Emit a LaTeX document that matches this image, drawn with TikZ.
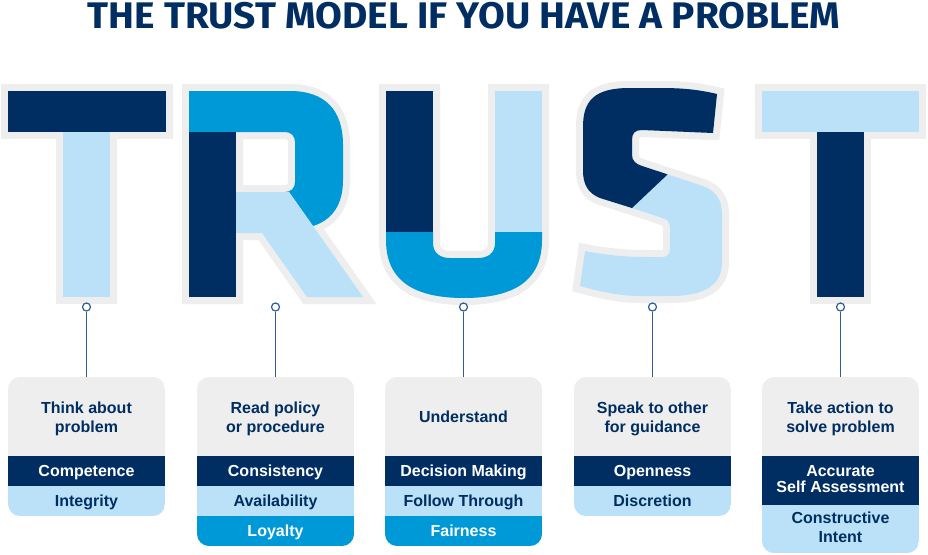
\documentclass[tikz,border=0pt]{standalone}
\usepackage{fontspec}
\usepackage{tikz}
\usetikzlibrary{calc}
\setmainfont{Liberation Sans}
\newfontfamily\titlefont{Fira Sans}
\definecolor{trustnavy}{HTML}{002D62}
\definecolor{trustblue}{HTML}{0099D8}
\definecolor{trustlight}{HTML}{BBE1F8}
\definecolor{trustgray}{HTML}{EEEEEE}
\definecolor{trustpin}{HTML}{2E5D93}
\tikzset{
	outline/.style={draw=trustgray, line width=14pt, line join=miter},
	pinring/.style={circle, draw=trustpin, line width=1.2pt, fill=white, inner sep=0pt, minimum size=8pt},
	pinline/.style={draw=trustpin, line width=1pt},
	headtext/.style={text=trustnavy, font=\bfseries\fontsize{16}{19}\selectfont, align=center},
	darkband/.style={text=white, font=\bfseries\fontsize{16}{16}\selectfont, align=center},
	lightband/.style={text=trustnavy, font=\bfseries\fontsize{16}{19}\selectfont, align=center},
}
\def\boxclip(#1,#2){\clip[rounded corners=12pt] (#1,377) rectangle ($(#1,#2)+(157,0)$);}

\begin{document}
\begin{tikzpicture}[x=1pt, y=-1pt]
			%%%%% START %%%%%
			\useasboundingbox (0,0) rectangle (928,554);
			\fill[white] (0,0) rectangle (928,554);
			
			\node[font=\titlefont\bfseries\fontsize{37}{37}\selectfont, text=trustnavy] (title) at (464,16) {\scalebox{1.05}[1]{THE TRUST MODEL IF YOU HAVE A PROBLEM}};
			
			%%%%% letter T
			\draw[outline] (8,91) -- (166,91) -- (166,132) -- (110,132) -- (110,297) -- (63,297) -- (63,132) -- (8,132) -- cycle;
			\fill[trustnavy] (8,91) rectangle (166,132);
			\fill[trustlight] (63,132) rectangle (110,297);
			
			%%%%% letter R
			\draw[outline] (189,91) -- (290,91) .. controls (325,91) and (343,110) .. (343,145) -- (343,180) .. controls (343,205) and (332,220) .. (313,226) -- (363,297) -- (307,297) -- (262,233) -- (236,233) -- (236,297) -- (189,297) -- cycle;
			\draw[outline] (236,132) -- (285,132) .. controls (291,132) and (295,136) .. (295,142) -- (295,182) .. controls (295,188) and (291,192) .. (285,192) -- (236,192) -- cycle;
			\fill[trustblue] (189,91) -- (290,91) .. controls (325,91) and (343,110) .. (343,145) -- (343,180) .. controls (343,205) and (332,220) .. (313,226) -- (289,192) -- (285,192) .. controls (291,192) and (295,188) .. (295,182) -- (295,142) .. controls (295,136) and (291,132) .. (285,132) -- (189,132) -- cycle;
			\fill[trustnavy] (189,132) rectangle (236,297);
			\fill[trustlight] (236,192) -- (289,192) -- (313,226) -- (363,297) -- (307,297) -- (262,233) -- (236,233) -- cycle;
			
			%%%%% letter U
			\draw[outline] (386,91) -- (433,91) -- (433,243) .. controls (433,253) and (440,258) .. (450,258) -- (478,258) .. controls (488,258) and (495,253) .. (495,243) -- (495,91) -- (542,91) -- (542,240) .. controls (542,280) and (515,298) .. (464,298) .. controls (413,298) and (386,280) .. (386,240) -- cycle;
			\fill[trustnavy] (386,91) rectangle (433,232);
			\fill[trustlight] (495,91) rectangle (542,232);
			\fill[trustblue] (386,232) -- (433,232) -- (433,243) .. controls (433,253) and (440,258) .. (450,258) -- (478,258) .. controls (488,258) and (495,253) .. (495,243) -- (495,232) -- (542,232) -- (542,240) .. controls (542,280) and (515,298) .. (464,298) .. controls (413,298) and (386,280) .. (386,240) -- cycle;
			
			%%%%% letter S
			\def\spath{(717,94) -- (713,133) -- (642,130) .. controls (635,130) and (632,133) .. (632,140) -- (632,155) .. controls (632,161) and (636,164) .. (642,166) -- (700,185) .. controls (715,190) and (722,198) .. (722,215) -- (722,262) .. controls (722,285) and (705,296) .. (670,296) -- (640,296) .. controls (618,296) and (598,291) .. (580,286) -- (585,251) .. controls (605,255) and (625,257) .. (645,257) -- (662,257) .. controls (667,257) and (670,254) .. (670,249) -- (670,228) .. controls (670,222) and (667,219) .. (662,218) -- (632,208) -- (600,198) .. controls (588,193) and (583,185) .. (583,170) -- (583,127) .. controls (583,100) and (595,88) .. (630,88) -- (660,88) .. controls (685,88) and (700,90) .. (717,94) -- cycle}
			\draw[outline] \spath;
			\fill[trustlight] \spath;
			\begin{scope}
				\clip (560,80) -- (740,80) -- (740,150) -- (690,150) -- (667,175) -- (632,208) -- (560,230) -- cycle;
				\fill[trustnavy] \spath;
			\end{scope}
			
			%%%%% letter T
			\draw[outline] (762,91) -- (919,91) -- (919,132) -- (864,132) -- (864,297) -- (817,297) -- (817,132) -- (762,132) -- cycle;
			\fill[trustlight] (762,91) rectangle (919,132);
			\fill[trustnavy] (817,132) rectangle (864,297);
			
			%%%%% box 1
			\begin{scope}
				\boxclip(8,516)
				\fill[trustgray] (8,377) rectangle (165,456);
				\fill[trustnavy] (8,456) rectangle (165,486);
				\fill[trustlight] (8,486) rectangle (165,516);
			\end{scope}
			\coordinate (think) at (86.5,377);
			\node[headtext] (thinkhead) at (86.5,419.2) {Think about\\problem};
			\node[darkband, anchor=base] (thinkA) at (86.5,476.75) {Competence};
			\node[lightband, anchor=base] (thinkB) at (86.5,506.75) {Integrity};
			
			%%%%% box 2
			\begin{scope}
				\boxclip(197,546)
				\fill[trustgray] (197,377) rectangle (354,456);
				\fill[trustnavy] (197,456) rectangle (354,486);
				\fill[trustlight] (197,486) rectangle (354,516);
				\fill[trustblue] (197,516) rectangle (354,546);
			\end{scope}
			\coordinate (read) at (275.5,377);
			\node[headtext] (readhead) at (275.5,419.2) {Read policy\\or procedure};
			\node[darkband, anchor=base] (readA) at (275.5,476.75) {Consistency};
			\node[lightband, anchor=base] (readB) at (275.5,506.75) {Availability};
			\node[darkband, anchor=base] (readC) at (275.5,536.75) {Loyalty};
			
			%%%%% box 3
			\begin{scope}
				\boxclip(385,546)
				\fill[trustgray] (385,377) rectangle (542,456);
				\fill[trustnavy] (385,456) rectangle (542,486);
				\fill[trustlight] (385,486) rectangle (542,516);
				\fill[trustblue] (385,516) rectangle (542,546);
			\end{scope}
			\coordinate (under) at (463.5,377);
			\node[headtext, anchor=base] (underhead) at (463.5,422.75) {Understand};
			\node[darkband, anchor=base] (underA) at (463.5,476.75) {Decision Making};
			\node[lightband, anchor=base] (underB) at (463.5,506.75) {Follow Through};
			\node[darkband, anchor=base] (underC) at (463.5,536.75) {Fairness};
			
			%%%%% box 4
			\begin{scope}
				\boxclip(574,516)
				\fill[trustgray] (574,377) rectangle (731,456);
				\fill[trustnavy] (574,456) rectangle (731,486);
				\fill[trustlight] (574,486) rectangle (731,516);
			\end{scope}
			\coordinate (speak) at (652.5,377);
			\node[headtext] (speakhead) at (652.5,419.2) {Speak to other\\for guidance};
			\node[darkband, anchor=base] (speakA) at (652.5,476.75) {Openness};
			\node[lightband, anchor=base] (speakB) at (652.5,506.75) {Discretion};
			
			%%%%% box 5
			\begin{scope}
				\boxclip(762,553)
				\fill[trustgray] (762,377) rectangle (919,456);
				\fill[trustnavy] (762,456) rectangle (919,505);
				\fill[trustlight] (762,505) rectangle (919,553);
			\end{scope}
			\coordinate (act) at (840.5,377);
			\node[headtext] (acthead) at (840.5,419.2) {Take action to\\solve problem};
			\node[darkband] (actA) at (840.5,479) {Accurate\\Self Assessment};
			\node[lightband] (actB) at (840.5,527.5) {Constructive\\Intent};
			
			%%%%% pins
			\node[pinring] (pinT) at (86.5,307) {};
			\node[pinring] (pinR) at (275.5,307) {};
			\node[pinring] (pinU) at (463.5,307) {};
			\node[pinring] (pinS) at (652.5,307) {};
			\node[pinring] (pinTT) at (840.5,307) {};
			\draw[pinline] (pinT) -- (think);
			\draw[pinline] (pinR) -- (read);
			\draw[pinline] (pinU) -- (under);
			\draw[pinline] (pinS) -- (speak);
			\draw[pinline] (pinTT) -- (act);
			
			%%%%% END %%%%%
\end{tikzpicture}
\end{document}
